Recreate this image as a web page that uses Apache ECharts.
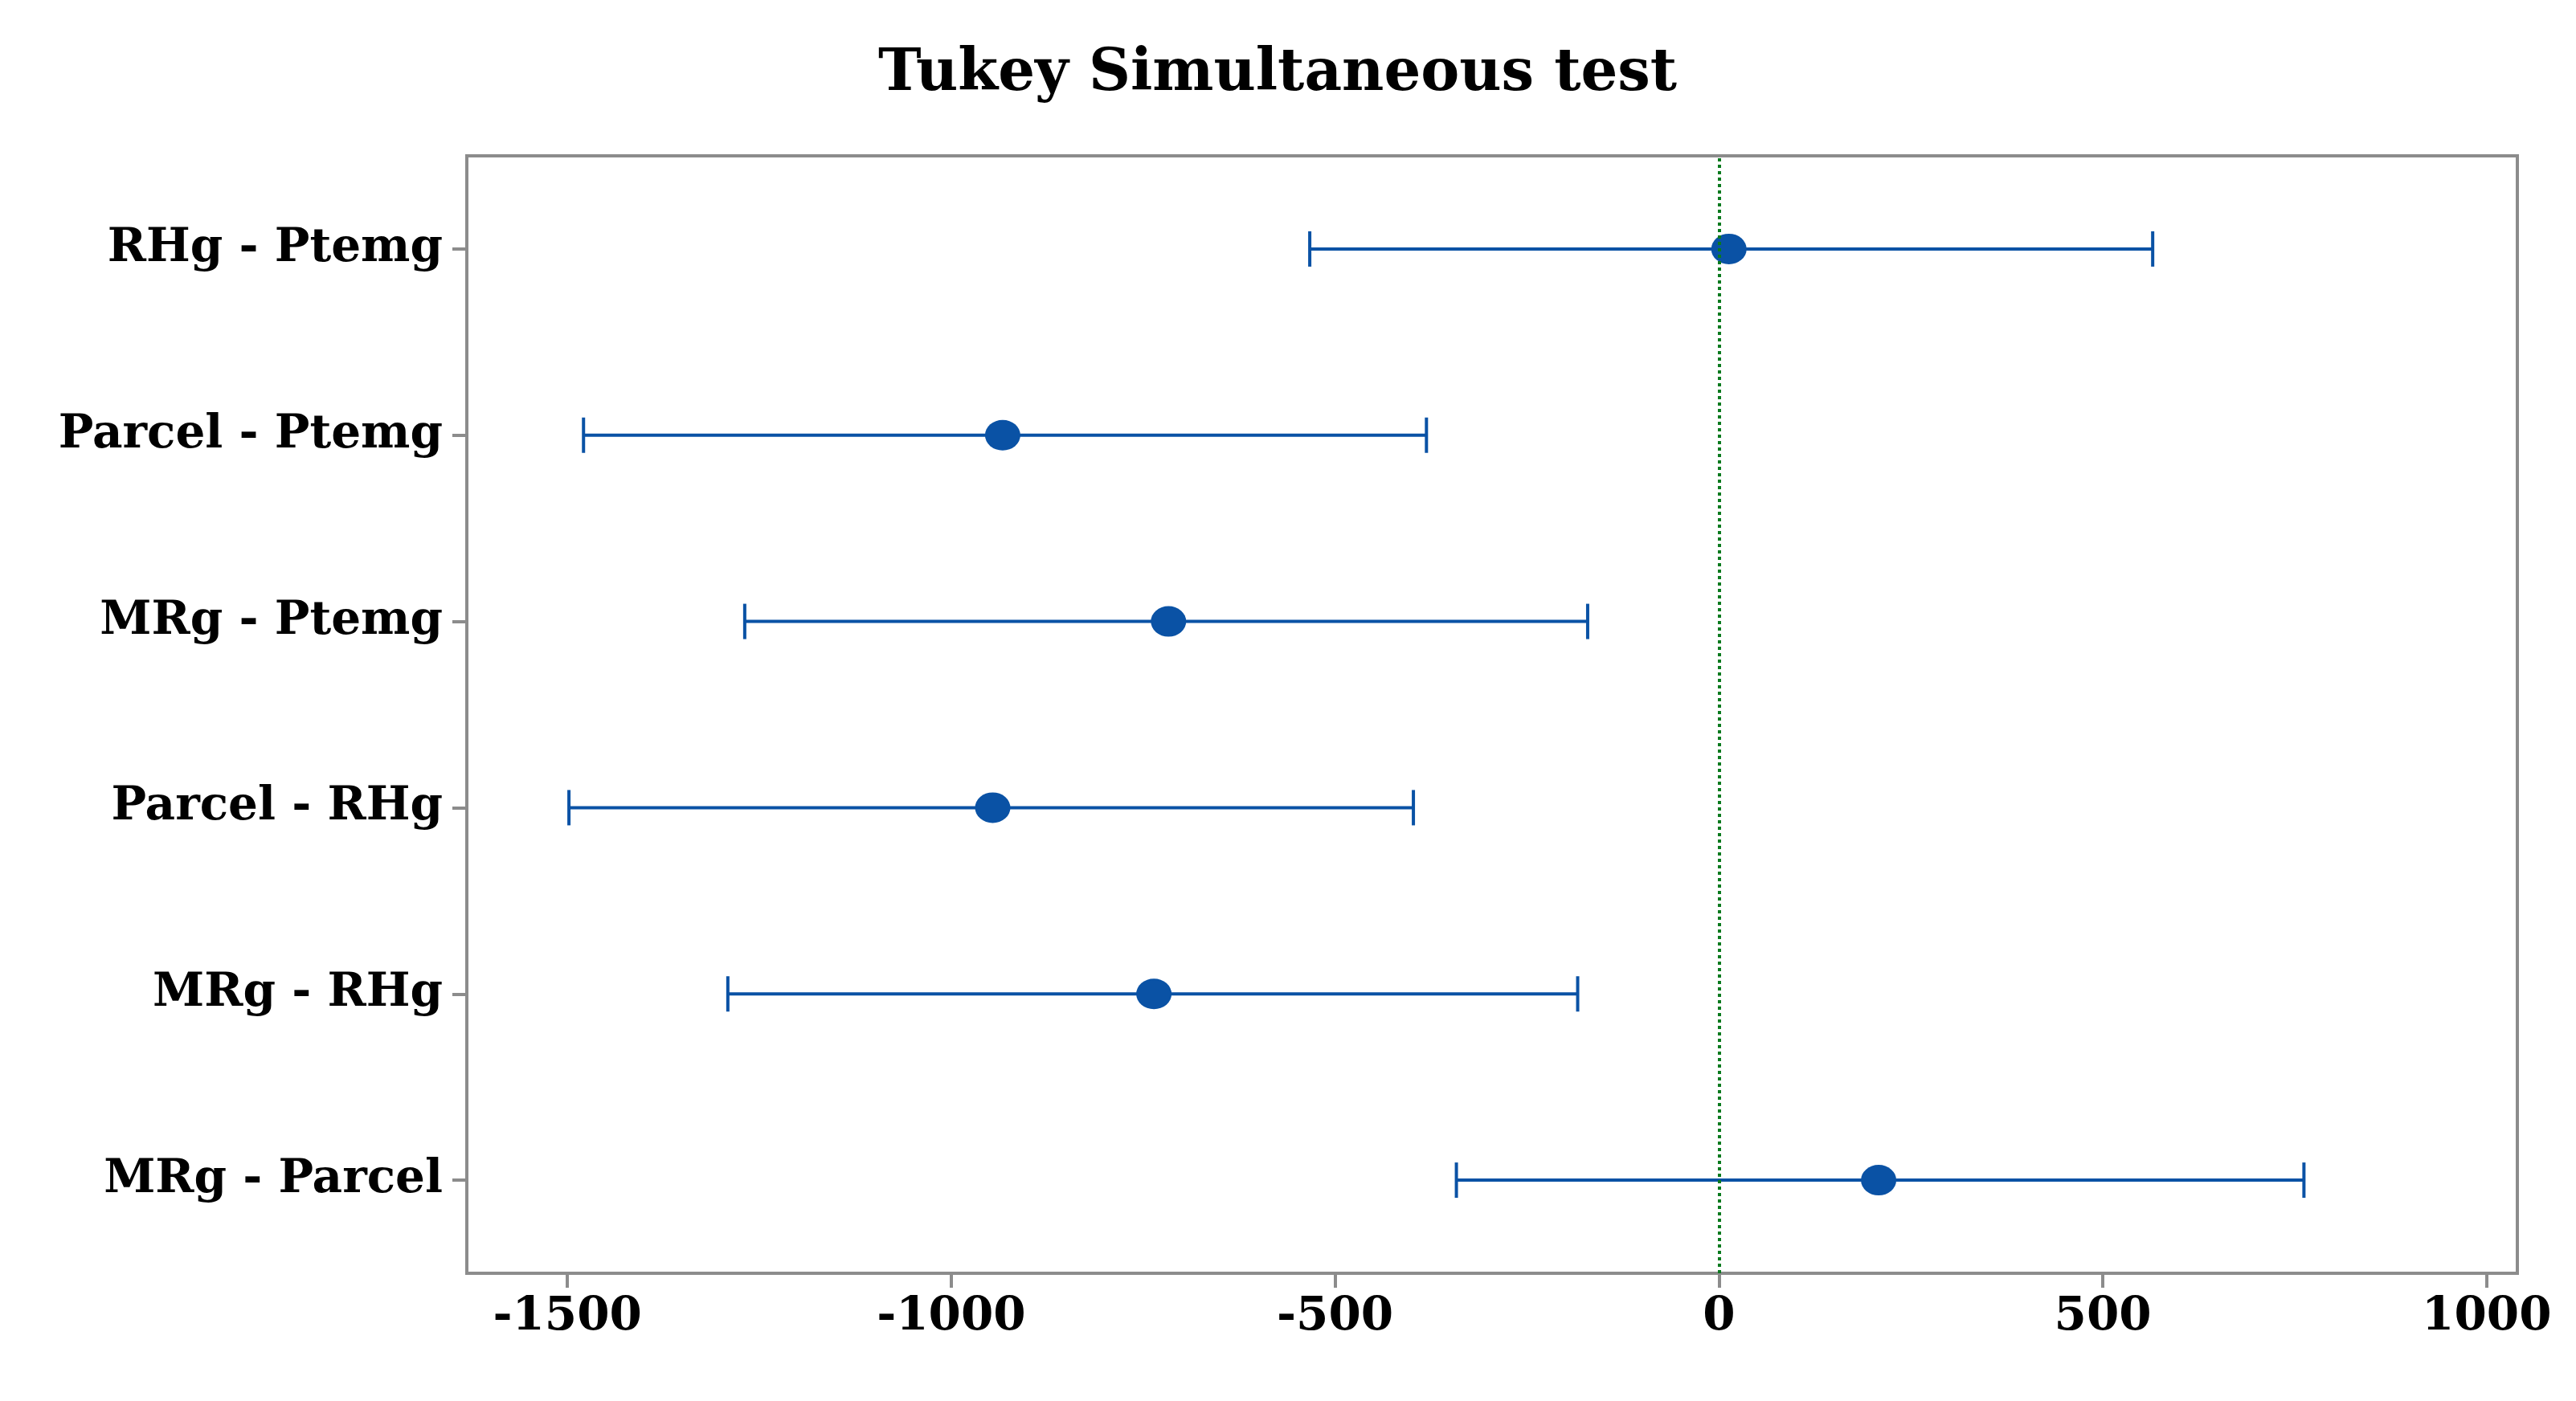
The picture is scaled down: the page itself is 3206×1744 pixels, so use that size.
<!DOCTYPE html>
<html>
<head>
<meta charset="utf-8">
<script src="https://cdn.jsdelivr.net/npm/echarts@6/dist/echarts.min.js"></script>
<style>html,body{margin:0;padding:0;background:#fff}#chart{width:3206px;height:1744px}</style>
</head>
<body>
<div id="chart"></div>
<script>
// bottom to top
let comparisons = ["MRg - Parcel", "MRg - RHg", "Parcel - RHg", "MRg - Ptemg", "Parcel - Ptemg", "RHg - Ptemg"];
let lower = [-342, -1291, -1498, -1269, -1479, -533];
let mean = [208, -736, -946, -717, -933, 13];
let upper = [762, -184, -398, -171, -381, 565];
let xTicks = [-1500, -1000, -500, 0, 500, 1000];

let blue = "#0a52a5";
let font = "DejaVu Serif";

let chart = echarts.init(document.getElementById("chart"));

chart.setOption({
    title: {
        text: "Tukey Simultaneous test",
        left: 1585, top: 52, textAlign: "center",
        textStyle: { fontFamily: font, fontWeight: "bold", fontSize: 72, color: "#000" }
    },
    grid: {
        left: 581, right: 73, top: 194, bottom: 159,
        show: true, borderColor: "#8c8c8c", borderWidth: 4
    },
    xAxis: {
        type: "value", min: -1631, max: 1040,
        axisLine: { show: false, onZero: false },
        axisTick: { show: true, length: 18, lineStyle: { color: "#8c8c8c", width: 4 },
            customValues: xTicks },
        axisLabel: { fontFamily: font, fontWeight: "bold", fontSize: 58, color: "#000",
            margin: 26, customValues: xTicks, formatter: v => String(v) },
        splitLine: { show: false }
    },
    yAxis: {
        type: "category", data: comparisons,
        axisLine: { show: false, onZero: false },
        axisTick: { show: true, alignWithLabel: true, length: 18, lineStyle: { color: "#8c8c8c", width: 4 } },
        axisLabel: { fontFamily: font, fontWeight: "bold", fontSize: 58, color: "#000", margin: 30 }
    },
    series: [
        {
            type: "custom",
            data: comparisons.map((c, i) => [i, lower[i], upper[i]]),
            renderItem: function (params, api) {
                let a = api.coord([api.value(1), api.value(0)]);
                let b = api.coord([api.value(2), api.value(0)]);
                let h = 22;
                let st = { stroke: blue, lineWidth: 4 };
                return {
                    type: "group",
                    children: [
                        { type: "line", shape: { x1: a[0], y1: a[1], x2: b[0], y2: b[1] }, style: st },
                        { type: "line", shape: { x1: a[0], y1: a[1] - h, x2: a[0], y2: a[1] + h }, style: st },
                        { type: "line", shape: { x1: b[0], y1: b[1] - h, x2: b[0], y2: b[1] + h }, style: st }
                    ]
                };
            },
            encode: { x: [1, 2], y: 0 },
            z: 2
        },
        {
            type: "scatter",
            data: mean.map((m, i) => [m, i]),
            symbol: "circle",
            symbolSize: [44, 38],
            itemStyle: { color: blue, opacity: 1 },
            z: 3,
            markLine: {
                silent: true, symbol: "none", label: { show: false },
                lineStyle: { color: "#0a7a1e", type: "dotted", width: 4 },
                data: [{ xAxis: 0 }]
            }
        }
    ]
});
</script>
</body>
</html>
